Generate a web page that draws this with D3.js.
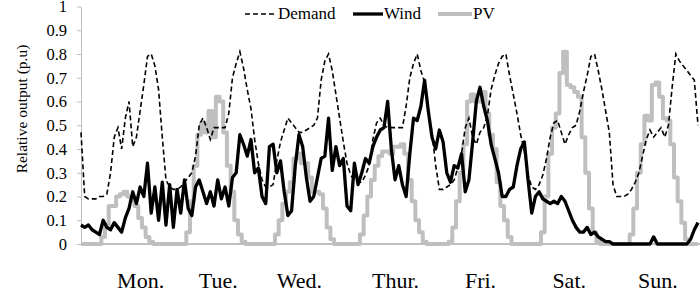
<!DOCTYPE html>
<html>
<head>
<meta charset="utf-8">
<script src="https://cdn.jsdelivr.net/npm/d3@7"></script>
<style>
  body { margin: 0; background: #fff; }
  #chart_id { width: 700px; height: 302px; }
  text { font-family: "Liberation Serif", "Times New Roman", serif; fill: #000; }
</style>
</head>
<body>
<div id="chart_id"></div>
<script>
// hourly values, one row per day (Mon..Sun)
var demand = [
  0.47, 0.2, 0.19, 0.19, 0.19, 0.2, 0.2, 0.21, 0.3, 0.45, 0.49, 0.4, 0.53, 0.6, 0.41, 0.45, 0.56, 0.67, 0.79, 0.8, 0.75, 0.65, 0.45, 0.27,
  0.24, 0.23, 0.23, 0.24, 0.26, 0.28, 0.3, 0.37, 0.5, 0.53, 0.49, 0.44, 0.49, 0.49, 0.49, 0.49, 0.55, 0.7, 0.76, 0.81, 0.74, 0.65, 0.57, 0.44,
  0.34, 0.27, 0.24, 0.24, 0.25, 0.35, 0.43, 0.48, 0.53, 0.51, 0.49, 0.47, 0.47, 0.48, 0.49, 0.5, 0.53, 0.69, 0.77, 0.8, 0.73, 0.63, 0.53, 0.43,
  0.34, 0.29, 0.27, 0.26, 0.26, 0.29, 0.33, 0.44, 0.51, 0.53, 0.5, 0.49, 0.49, 0.49, 0.49, 0.49, 0.58, 0.7, 0.76, 0.8, 0.73, 0.68, 0.57, 0.47,
  0.33, 0.23, 0.23, 0.24, 0.25, 0.27, 0.32, 0.38, 0.49, 0.53, 0.45, 0.42, 0.47, 0.49, 0.54, 0.65, 0.71, 0.76, 0.79, 0.8, 0.71, 0.63, 0.55, 0.46,
  0.39, 0.29, 0.24, 0.23, 0.25, 0.29, 0.36, 0.45, 0.51, 0.52, 0.47, 0.42, 0.46, 0.49, 0.5, 0.56, 0.64, 0.71, 0.79, 0.8, 0.73, 0.65, 0.56, 0.47,
  0.25, 0.2, 0.2, 0.2, 0.21, 0.23, 0.26, 0.3, 0.37, 0.44, 0.48, 0.45, 0.47, 0.49, 0.45, 0.5, 0.66, 0.8, 0.77, 0.75, 0.73, 0.71, 0.69, 0.5
];

var wind = [
  0.08, 0.07, 0.08, 0.06, 0.05, 0.04, 0.1, 0.07, 0.06, 0.09, 0.07, 0.05, 0.11, 0.15, 0.22, 0.17, 0.24, 0.2, 0.34, 0.13, 0.24, 0.1, 0.26, 0.08,
  0.25, 0.07, 0.23, 0.13, 0.27, 0.15, 0.12, 0.24, 0.27, 0.22, 0.17, 0.22, 0.16, 0.27, 0.19, 0.24, 0.16, 0.28, 0.3, 0.46, 0.42, 0.37, 0.44, 0.3,
  0.32, 0.2, 0.17, 0.41, 0.42, 0.3, 0.35, 0.22, 0.12, 0.14, 0.33, 0.46, 0.41, 0.28, 0.18, 0.2, 0.28, 0.36, 0.37, 0.53, 0.31, 0.41, 0.33, 0.36,
  0.16, 0.14, 0.34, 0.25, 0.3, 0.36, 0.34, 0.41, 0.45, 0.48, 0.49, 0.6, 0.4, 0.27, 0.33, 0.25, 0.2, 0.38, 0.53, 0.52, 0.58, 0.69, 0.56, 0.45,
  0.4, 0.48, 0.43, 0.3, 0.26, 0.33, 0.32, 0.38, 0.22, 0.27, 0.43, 0.6, 0.66, 0.58, 0.52, 0.42, 0.36, 0.3, 0.2, 0.2, 0.23, 0.24, 0.33, 0.4,
  0.43, 0.27, 0.13, 0.2, 0.22, 0.19, 0.18, 0.17, 0.18, 0.17, 0.2, 0.18, 0.14, 0.1, 0.07, 0.05, 0.05, 0.07, 0.04, 0.05, 0.03, 0.02, 0.01, 0.01,
  0, 0, 0, 0, 0, 0, 0, 0, 0, 0, 0, 0.03, 0, 0, 0, 0, 0, 0, 0, 0, 0, 0.02, 0.06, 0.09
];

var pv = [
  0, 0, 0, 0, 0, 0, 0.03, 0.08, 0.16, 0.16, 0.2, 0.21, 0.22, 0.2, 0.18, 0.16, 0.11, 0.07, 0.03, 0.01, 0, 0, 0, 0,
  0, 0, 0, 0, 0, 0.05, 0.18, 0.33, 0.46, 0.51, 0.47, 0.56, 0.45, 0.62, 0.6, 0.47, 0.33, 0.22, 0.1, 0.04, 0.01, 0, 0, 0,
  0, 0, 0, 0, 0, 0.04, 0.1, 0.17, 0.22, 0.26, 0.36, 0.38, 0.34, 0.34, 0.28, 0.22, 0.22, 0.21, 0.15, 0.07, 0.02, 0, 0, 0,
  0, 0, 0, 0, 0.04, 0.12, 0.2, 0.27, 0.33, 0.37, 0.39, 0.39, 0.38, 0.41, 0.41, 0.42, 0.38, 0.27, 0.18, 0.1, 0.05, 0.01, 0, 0,
  0, 0, 0, 0, 0.01, 0.07, 0.18, 0.3, 0.42, 0.6, 0.63, 0.6, 0.6, 0.64, 0.55, 0.46, 0.4, 0.26, 0.16, 0.1, 0.03, 0, 0, 0,
  0, 0, 0, 0, 0, 0.05, 0.2, 0.38, 0.49, 0.55, 0.72, 0.81, 0.67, 0.66, 0.64, 0.62, 0.45, 0.3, 0.15, 0.05, 0.01, 0, 0, 0,
  0, 0, 0, 0, 0, 0.04, 0.15, 0.3, 0.42, 0.54, 0.52, 0.67, 0.68, 0.62, 0.53, 0.52, 0.42, 0.28, 0.18, 0.09, 0.02, 0, 0, 0
];

var days = ["Mon.", "Tue.", "Wed.", "Thur.", "Fri.", "Sat.", "Sun."];
var dayLabelHours = [16, 37, 59, 85, 108, 132, 156];  // where each day name sits
var yTicks = [0, 0.1, 0.2, 0.3, 0.4, 0.5, 0.6, 0.7, 0.8, 0.9, 1];

var svg = d3.select("#chart_id").append("svg").attr("width", 700).attr("height", 302)

var x = d3.scaleLinear().domain([0, 167]).range([81, 698]);
var y = d3.scaleLinear().domain([0, 1]).range([244, 6.5]);

// y axis
var yAxis = svg.append("g").attr("transform", "translate(81,0)")
    .call(d3.axisLeft(y).tickValues(yTicks).tickSize(4).tickSizeOuter(0).tickPadding(10)
        .tickFormat(function(d) { return String(+d.toFixed(1)); }));
yAxis.select(".domain").attr("stroke", "#bfbfbf");
yAxis.selectAll(".tick line").attr("stroke", "#bfbfbf");
yAxis.selectAll("text").style("font-size", "16.5px").style("font-family", "Liberation Serif");

svg.append("text")
    .attr("transform", "translate(27,109) rotate(-90)")
    .attr("text-anchor", "middle")
    .style("font-size", "15.5px")
    .text("Relative output (p.u)");

// day names under the chart
var xAxis = svg.append("g").attr("transform", "translate(0,244)")
    .call(d3.axisBottom(x).tickValues(dayLabelHours).tickSize(0).tickPadding(28)
        .tickFormat(function(d, i) { return days[i]; }));
xAxis.select(".domain").remove();
xAxis.selectAll("text").style("font-size", "22px").style("font-family", "Liberation Serif");

svg.append("line")
    .attr("x1", 81).attr("x2", 700).attr("y1", y(0)).attr("y2", y(0))
    .attr("stroke", "#bfbfbf").attr("stroke-width", 2);

// series
var line = d3.line().x(function(d, i) { return x(i); }).y(function(d) { return y(d); });
var stepLine = d3.line().x(function(d, i) { return x(i); }).y(function(d) { return y(d); }).curve(d3.curveStep);

svg.append("path").datum(pv)
    .attr("d", stepLine)
    .attr("fill", "none").attr("stroke", "#bfbfbf").attr("stroke-width", 4)
    .attr("stroke-linejoin", "round");

svg.append("path").datum(wind)
    .attr("d", line)
    .attr("fill", "none").attr("stroke", "#000").attr("stroke-width", 3.3)
    .attr("stroke-linejoin", "round");

svg.append("path").datum(demand)
    .attr("d", line)
    .attr("fill", "none").attr("stroke", "#000").attr("stroke-width", 1.6)
    .attr("stroke-dasharray", "5,3");

// legend
var legend = [
  {name: "Demand", x: 245, w: 32, color: "#000", width: 1.6, dash: "5,3"},
  {name: "Wind", x: 353, w: 30, color: "#000", width: 3.3, dash: null},
  {name: "PV", x: 438, w: 34, color: "#bfbfbf", width: 4, dash: null}
];
var lg = svg.append("g").selectAll("g").data(legend).enter().append("g");
lg.append("line")
    .attr("x1", function(d) { return d.x; })
    .attr("x2", function(d) { return d.x + d.w; })
    .attr("y1", 14).attr("y2", 14)
    .attr("stroke", function(d) { return d.color; })
    .attr("stroke-width", function(d) { return d.width; })
    .attr("stroke-dasharray", function(d) { return d.dash; });
lg.append("text")
    .attr("x", function(d) { return d.x + d.w + 1; })
    .attr("y", 19)
    .style("font-size", "17px")
    .text(function(d) { return d.name; });
</script>
</body>
</html>
